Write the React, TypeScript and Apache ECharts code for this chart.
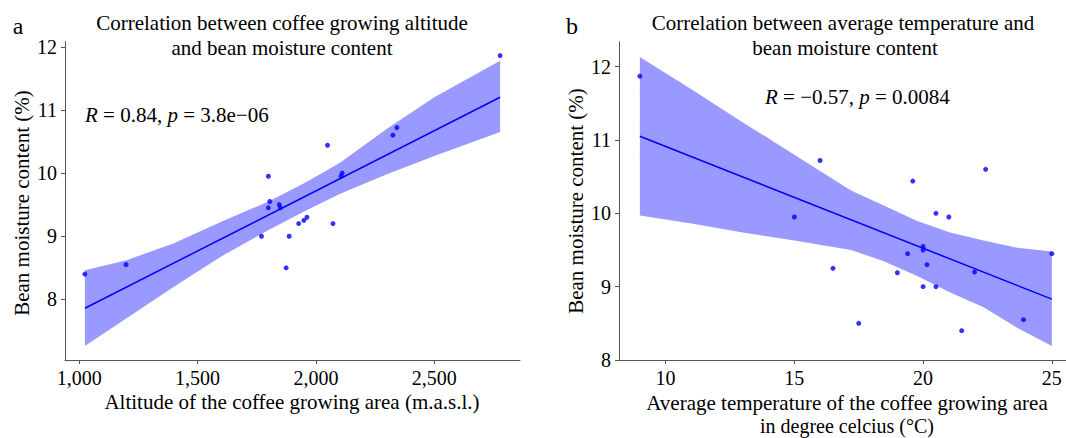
import React, { useEffect, useRef } from 'react';
import * as echarts from 'echarts';

// Panel a: altitude vs moisture
const altitude = [1024, 1198, 1770, 1799, 1805, 1799, 1845, 1850, 1874, 1887, 1927, 1949, 1962, 2049, 2072, 2106, 2111, 2325, 2342, 2778];
const moistureAlt = [8.40, 8.55, 9.00, 9.95, 9.55, 9.45, 9.50, 9.45, 8.50, 9.00, 9.20, 9.25, 9.30, 10.44, 9.20, 9.95, 10.00, 10.60, 10.72, 11.86];
const altFitX = [1024, 2778];
const altFitY = [7.86, 11.20];
const altBandX = [1024, 1200, 1400, 1600, 1800, 1950, 2100, 2300, 2500, 2778];
const altBandUpper = [8.46, 8.62, 8.89, 9.23, 9.55, 9.84, 10.16, 10.70, 11.20, 11.78];
const altBandLower = [7.26, 7.70, 8.20, 8.68, 9.10, 9.39, 9.67, 9.98, 10.27, 10.65];

// Panel b: temperature vs moisture
const temperature = [9.0, 16.0, 15.0, 16.5, 17.5, 19.0, 19.4, 19.6, 20.0, 20.0, 20.15, 20.0, 20.5, 20.5, 21.0, 21.5, 22.0, 22.43, 23.9, 25.0];
const moistureTemp = [11.87, 10.72, 9.95, 9.25, 8.50, 9.19, 9.45, 10.44, 9.55, 9.50, 9.30, 9.00, 10.00, 9.00, 9.95, 8.40, 9.20, 10.60, 8.55, 9.45];
const tempFitX = [9, 25];
const tempFitY = [11.05, 8.83];
const tempBandX = [9, 11, 13, 15, 17.2, 18.45, 19.75, 21.05, 22.35, 23.65, 25];
const tempBandUpper = [12.13, 11.69, 11.24, 10.80, 10.31, 10.11, 9.90, 9.74, 9.63, 9.53, 9.48];
const tempBandLower = [9.97, 9.86, 9.74, 9.63, 9.50, 9.35, 9.15, 8.92, 8.72, 8.44, 8.19];

const altTicks = [1000, 1500, 2000, 2500];
const tempTicks = [10, 15, 20, 25];
const moistTicks = [8, 9, 10, 11, 12];

const FONT = "'Liberation Serif', 'Times New Roman', serif";
const AXIS_COLOR = '#555';
const DOT = '#0000ff';
const BAND = 'rgba(0,0,255,0.4)';

function bandSeries(idx: number, xs: number[], up: number[], lo: number[]) {
  return {
    type: 'custom',
    xAxisIndex: idx,
    yAxisIndex: idx,
    z: 1,
    silent: true,
    data: [[xs[0], up[0]]],
    renderItem: (_p: any, api: any) => {
      const pts: number[][] = [];
      for (let i = 0; i < xs.length; i++) pts.push(api.coord([xs[i], up[i]]));
      for (let i = xs.length - 1; i >= 0; i--) pts.push(api.coord([xs[i], lo[i]]));
      return { type: 'polygon', shape: { points: pts }, style: { fill: BAND } };
    },
  };
}

function axisBase(ticks: number[], formatter?: (v: number) => string) {
  return {
    type: 'value',
    axisLine: { show: true, onZero: false, lineStyle: { color: AXIS_COLOR, width: 1 } },
    axisTick: { show: true, length: 4, customValues: ticks, lineStyle: { color: AXIS_COLOR } },
    splitLine: { show: false },
    axisLabel: {
      customValues: ticks,
      color: '#000',
      fontFamily: FONT,
      fontSize: 20,
      margin: 8,
      formatter: formatter || ((v: number) => String(v)),
    },
  };
}

function txt(text: string, x: number, y: number, size: number, extra: any = {}) {
  return {
    type: 'text',
    x,
    y,
    rotation: extra.rotation || 0,
    style: {
      text,
      fontFamily: FONT,
      fontSize: size,
      fill: '#000',
      align: extra.align || 'center',
      verticalAlign: 'middle',
      rich: extra.rich,
    },
  };
}

export default function App() {
  const ref = useRef<HTMLDivElement>(null);
  useEffect(() => {
    if (!ref.current) return;
    const chart = echarts.init(ref.current, undefined, { renderer: 'svg' });
    const richIt = {
      i: { fontFamily: FONT, fontSize: 21, fontStyle: 'italic', fill: '#000' },
      n: { fontFamily: FONT, fontSize: 21, fill: '#000' },
    };
    chart.setOption({
      animation: false,
      backgroundColor: '#fff',
      grid: [
        { left: 65, top: 41.7, width: 455, height: 318.3 },
        { left: 619, top: 41.7, width: 447, height: 318.3 },
      ],
      xAxis: [
        { ...axisBase(altTicks, (v: number) => v.toLocaleString('en-US')), gridIndex: 0, min: 940, max: 2862 },
        { ...axisBase(tempTicks), gridIndex: 1, min: 8.19, max: 25.55 },
      ],
      yAxis: [
        { ...axisBase(moistTicks), gridIndex: 0, min: 7.04, max: 12.08 },
        { ...axisBase(moistTicks), gridIndex: 1, min: 8.0, max: 12.34 },
      ],
      series: [
        bandSeries(0, altBandX, altBandUpper, altBandLower),
        {
          type: 'line', xAxisIndex: 0, yAxisIndex: 0, z: 2, showSymbol: false, silent: true,
          data: altFitX.map((x, i) => [x, altFitY[i]]),
          lineStyle: { color: DOT, width: 1.5 },
        },
        {
          type: 'scatter', xAxisIndex: 0, yAxisIndex: 0, z: 3, symbolSize: 5,
          itemStyle: { color: DOT },
          data: altitude.map((x, i) => [x, moistureAlt[i]]),
        },
        bandSeries(1, tempBandX, tempBandUpper, tempBandLower),
        {
          type: 'line', xAxisIndex: 1, yAxisIndex: 1, z: 2, showSymbol: false, silent: true,
          data: tempFitX.map((x, i) => [x, tempFitY[i]]),
          lineStyle: { color: DOT, width: 1.5 },
        },
        {
          type: 'scatter', xAxisIndex: 1, yAxisIndex: 1, z: 3, symbolSize: 5,
          itemStyle: { color: DOT },
          data: temperature.map((x, i) => [x, moistureTemp[i]]),
        },
      ],
      graphic: [
        txt('a', 18, 26, 24),
        txt('b', 572, 26, 24),
        txt('Correlation between coffee growing altitude', 282, 23, 21),
        txt('and bean moisture content', 282, 48, 21),
        txt('Correlation between average temperature and', 843, 23, 21),
        txt('bean moisture content', 845, 48, 21),
        txt('{i|R}{n| = 0.84, }{i|p}{n| = 3.8e\u221206}', 85, 115, 21, { align: 'left', rich: richIt }),
        txt('{i|R}{n| = \u22120.57, }{i|p}{n| = 0.0084}', 765, 97, 21, { align: 'left', rich: richIt }),
        txt('Altitude of the coffee growing area (m.a.s.l.)', 292, 402, 21),
        txt('Average temperature of the coffee growing area', 847, 403, 21),
        txt('in degree celcius (\u00b0C)', 847, 426, 20),
        txt('Bean moisture content (%)', 22, 203, 21, { rotation: Math.PI / 2 }),
        txt('Bean moisture content (%)', 576, 201, 21, { rotation: Math.PI / 2 }),
      ],
    });
    return () => chart.dispose();
  }, []);
  return (
    <div
      ref={ref}
      style={{ position: 'fixed', left: 0, top: 0, width: 1066, height: 438 }}
    />
  );
}
